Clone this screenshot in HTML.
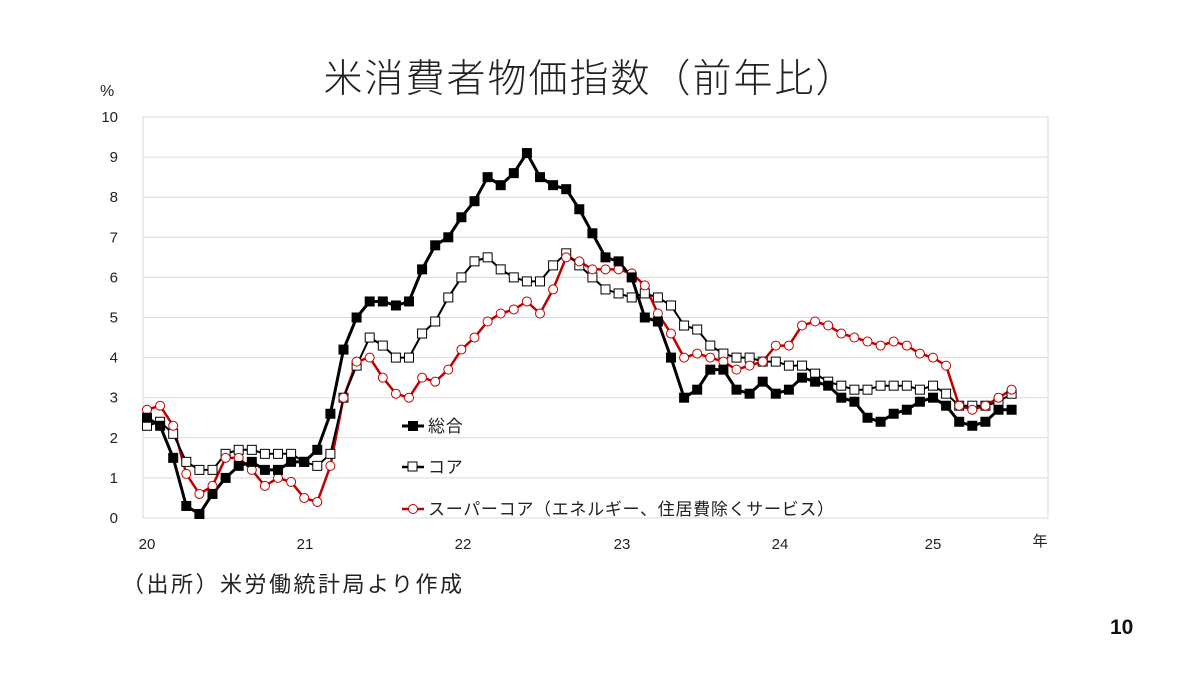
<!DOCTYPE html>
<html><head><meta charset="utf-8"><style>
html,body{margin:0;padding:0;background:#fff;}
body{width:1200px;height:675px;overflow:hidden;font-family:"Liberation Sans","Noto Sans CJK JP",sans-serif;}
</style></head><body>
<svg id="s" width="1200" height="675" xmlns="http://www.w3.org/2000/svg" font-family="'Liberation Sans','Noto Sans CJK JP',sans-serif">
<text x="590" y="92" font-size="39" letter-spacing="2" text-anchor="middle" fill="#222" font-weight="300">米消費者物価指数（前年比）</text>
<text x="100" y="96" font-size="16" fill="#222">%</text>
<rect x="143" y="117" width="905" height="401" fill="none" stroke="#d9d9d9" stroke-width="1"/>
<g id="grid"></g>
<g id="yl" font-size="15" fill="#222" text-anchor="end"></g>
<g font-size="15" fill="#222" text-anchor="middle">
<text x="147" y="549">20</text><text x="305" y="549">21</text><text x="463" y="549">22</text>
<text x="622" y="549">23</text><text x="780" y="549">24</text><text x="933" y="549">25</text>
<text x="1040" y="546">年</text>
</g>
<g id="series"></g>
<g font-size="17" fill="#222" letter-spacing="0.7">
<line x1="402" y1="426" x2="424" y2="426" stroke="#000" stroke-width="3"/><rect x="408" y="421" width="10" height="10" fill="#000"/>
<text x="428" y="432">総合</text>
<line x1="402" y1="467" x2="424" y2="467" stroke="#000" stroke-width="2.5"/><rect x="408" y="462" width="9" height="9" fill="#fff" stroke="#000"/>
<text x="428" y="473">コア</text>
<line x1="402" y1="509" x2="424" y2="509" stroke="#c00000" stroke-width="2.5"/><circle cx="413" cy="509" r="4.5" fill="#fff" stroke="#c00000"/>
<text x="428" y="515">スーパーコア（エネルギー、住居費除くサービス）</text>
</g>
<text x="122" y="592" font-size="22" letter-spacing="2.5" fill="#222">（出所）米労働統計局より作成</text>
<text x="1110" y="634" font-size="21" font-weight="bold" fill="#111">10</text>
</svg>
<script>
var NS="http://www.w3.org/2000/svg";
function el(t,a,p){var e=document.createElementNS(NS,t);for(var k in a)e.setAttribute(k,a[k]);p.appendChild(e);return e;}
var g=document.getElementById('grid'),yl=document.getElementById('yl'),sr=document.getElementById('series');
function Y(v){return 518-v*40.1;}
function X(i){return 147+i*13.1;}
for(var v=0;v<=10;v++){if(v>0&&v<10)el('line',{x1:143,x2:1048,y1:Y(v),y2:Y(v),stroke:'#d9d9d9','stroke-width':1},g);
var t=el('text',{x:118,y:Y(v)+5},yl);t.textContent=v;}
var head=[2.5,2.3,1.5,0.3,0.1,0.6,1.0,1.3,1.4,1.2,1.2,1.4,1.4,1.7,2.6,4.2,5.0,5.4,5.4,5.3,5.4,6.2,6.8,7.0,7.5,7.9,8.5,8.3,8.6,9.1,8.5,8.3,8.2,7.7,7.1,6.5,6.4,6.0,5.0,4.9,4.0,3.0,3.2,3.7,3.7,3.2,3.1,3.4,3.1,3.2,3.5,3.4,3.3,3.0,2.9,2.5,2.4,2.6,2.7,2.9,3.0,2.8,2.4,2.3,2.4,2.7,2.7];
var core=[2.3,2.4,2.1,1.4,1.2,1.2,1.6,1.7,1.7,1.6,1.6,1.6,1.4,1.3,1.6,3.0,3.8,4.5,4.3,4.0,4.0,4.6,4.9,5.5,6.0,6.4,6.5,6.2,6.0,5.9,5.9,6.3,6.6,6.3,6.0,5.7,5.6,5.5,5.6,5.5,5.3,4.8,4.7,4.3,4.1,4.0,4.0,3.9,3.9,3.8,3.8,3.6,3.4,3.3,3.2,3.2,3.3,3.3,3.3,3.2,3.3,3.1,2.8,2.8,2.8,2.9,3.1];
var sup=[2.7,2.8,2.3,1.1,0.6,0.8,1.5,1.5,1.2,0.8,1.0,0.9,0.5,0.4,1.3,3.0,3.9,4.0,3.5,3.1,3.0,3.5,3.4,3.7,4.2,4.5,4.9,5.1,5.2,5.4,5.1,5.7,6.5,6.4,6.2,6.2,6.2,6.1,5.8,5.1,4.6,4.0,4.1,4.0,3.9,3.7,3.8,3.9,4.3,4.3,4.8,4.9,4.8,4.6,4.5,4.4,4.3,4.4,4.3,4.1,4.0,3.8,2.8,2.7,2.8,3.0,3.2];
function pts(d){return d.map(function(v,i){return X(i).toFixed(1)+','+Y(v).toFixed(1);}).join(' ');}
el('polyline',{points:pts(sup),fill:'none',stroke:'#c00000','stroke-width':2.5},sr);
el('polyline',{points:pts(core),fill:'none',stroke:'#000','stroke-width':2},sr);
el('polyline',{points:pts(head),fill:'none',stroke:'#000','stroke-width':3},sr);
core.forEach(function(v,i){el('rect',{x:X(i)-4.5,y:Y(v)-4.5,width:9,height:9,fill:'#fff',stroke:'#000','stroke-width':1},sr);});
sup.forEach(function(v,i){el('circle',{cx:X(i),cy:Y(v),r:4.5,fill:'#fff',stroke:'#c00000','stroke-width':1},sr);});
head.forEach(function(v,i){el('rect',{x:X(i)-5,y:Y(v)-5,width:10,height:10,fill:'#000'},sr);});
</script>
</body></html>
